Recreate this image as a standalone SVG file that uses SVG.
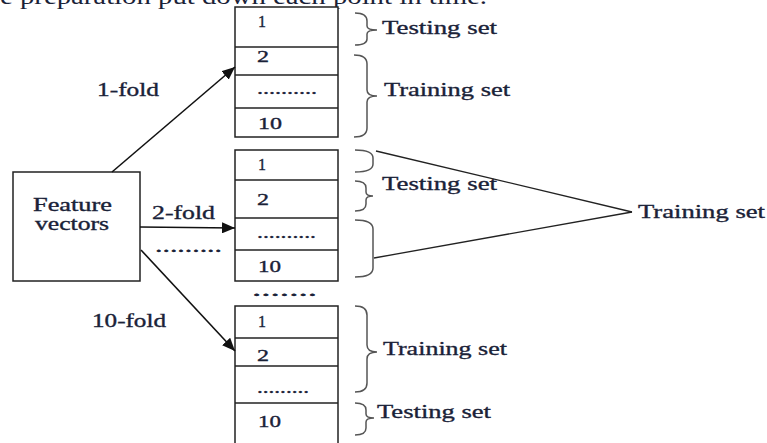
<svg xmlns="http://www.w3.org/2000/svg" width="767" height="443" viewBox="0 0 767 443">
<defs>
<style>
text{font-family:"Liberation Serif","Times New Roman",serif;fill:#1a2238;stroke:#1a2238;stroke-width:0.35;}
.lbl{font-size:19px;}
.num{font-size:16px;}
.fold{font-size:18px;}
.box{fill:#fff;stroke:#222;stroke-width:1.5;}
.div{stroke:#222;stroke-width:1.3;}
.brace{fill:none;stroke:#555;stroke-width:1.5;}
.conn{stroke:#111;stroke-width:1.6;fill:none;}
.thin{stroke:#222;stroke-width:1.3;fill:none;}
</style>
<marker id="ah" viewBox="0 0 13 11" refX="13" refY="5.5" markerWidth="13" markerHeight="11" markerUnits="userSpaceOnUse" orient="auto">
<path d="M0,0 L13,5.5 L0,11 Z" fill="#111"/>
</marker>
</defs>
<rect width="767" height="443" fill="#fff"/>
<text x="0" y="4" style="font-size:24px;stroke:none" textLength="487" lengthAdjust="spacingAndGlyphs" fill="#111">e preparation put down each point in time.</text>

<g id="feature">
<rect class="box" x="13" y="172" width="127" height="109"/>
<text class="fold" x="33" y="211" textLength="79" lengthAdjust="spacingAndGlyphs">Feature</text>
<text class="fold" x="35" y="230" textLength="74" lengthAdjust="spacingAndGlyphs">vectors</text>
</g>

<g id="fold1">
<rect class="box" x="235" y="7" width="103" height="130"/>
<line class="div" x1="235" y1="47" x2="338" y2="47"/>
<line class="div" x1="235" y1="75" x2="338" y2="75"/>
<line class="div" x1="235" y1="108" x2="338" y2="108"/>
<text class="num" x="258" y="27" textLength="8" lengthAdjust="spacingAndGlyphs">1</text>
<text class="num" x="257" y="62" textLength="12" lengthAdjust="spacingAndGlyphs">2</text>
<text class="num" x="257" y="94" textLength="60" lengthAdjust="spacingAndGlyphs">..........</text>
<text class="num" x="258" y="129" textLength="24" lengthAdjust="spacingAndGlyphs">10</text>
<path class="brace" d="M355,13 Q367,13 367,21 L367,26 Q367,30 377,30 Q367,30 367,34 L367,39 Q367,45 355,45"/>
<text class="lbl" x="382" y="34" textLength="115" lengthAdjust="spacingAndGlyphs">Testing set</text>
<path class="brace" d="M354,55 Q367,55 367,64 L367,90 Q367,96 377,96 Q367,96 367,102 L367,128 Q367,137 354,137"/>
<text class="lbl" x="384" y="96" textLength="126" lengthAdjust="spacingAndGlyphs">Training set</text>
</g>

<g id="fold2">
<rect class="box" x="235" y="150" width="103" height="131"/>
<line class="div" x1="235" y1="180" x2="338" y2="180"/>
<line class="div" x1="235" y1="218" x2="338" y2="218"/>
<line class="div" x1="235" y1="250" x2="338" y2="250"/>
<text class="num" x="258" y="170" textLength="8" lengthAdjust="spacingAndGlyphs">1</text>
<text class="num" x="257" y="205" textLength="12" lengthAdjust="spacingAndGlyphs">2</text>
<text class="num" x="257" y="238" textLength="59" lengthAdjust="spacingAndGlyphs">..........</text>
<text class="num" x="258" y="272" textLength="23" lengthAdjust="spacingAndGlyphs">10</text>
<path class="brace" d="M355,150 Q373,150 373,158 L373,164 Q373,172 355,172"/>
<path class="brace" d="M355,181 Q366,181 366,188 L366,192 Q366,196 373,196 Q366,196 366,200 L366,204 Q366,211 355,211"/>
<text class="lbl" x="382" y="190" textLength="115" lengthAdjust="spacingAndGlyphs">Testing set</text>
<path class="brace" d="M355,220 Q373,220 373,229 L373,268 Q373,277 355,277"/>
<text class="lbl" x="638" y="218" textLength="127" lengthAdjust="spacingAndGlyphs">Training set</text>
</g>

<g id="fold10">
<rect class="box" x="235" y="306" width="103" height="150"/>
<line class="div" x1="235" y1="338" x2="338" y2="338"/>
<line class="div" x1="235" y1="366" x2="338" y2="366"/>
<line class="div" x1="235" y1="403" x2="338" y2="403"/>
<text class="num" x="258" y="327" textLength="8" lengthAdjust="spacingAndGlyphs">1</text>
<text class="num" x="257" y="361" textLength="12" lengthAdjust="spacingAndGlyphs">2</text>
<text class="num" x="257" y="393" textLength="52" lengthAdjust="spacingAndGlyphs">.........</text>
<text class="num" x="258" y="427" textLength="23" lengthAdjust="spacingAndGlyphs">10</text>
<path class="brace" d="M355,306 Q367,306 367,315 L367,345 Q367,352 377,352 Q367,352 367,359 L367,383 Q367,392 355,392"/>
<text class="lbl" x="383" y="355" textLength="124" lengthAdjust="spacingAndGlyphs">Training set</text>
<path class="brace" d="M355,403 Q366,403 366,410 L366,414 Q366,418 374,418 Q366,418 366,422 L366,428 Q366,435 355,435"/>
<text class="lbl" x="377" y="418" textLength="114" lengthAdjust="spacingAndGlyphs">Testing set</text>
</g>

<g id="connectors">
<line class="conn" x1="112" y1="172" x2="235" y2="67" marker-end="url(#ah)"/>
<line class="conn" x1="140" y1="227" x2="235" y2="228" marker-end="url(#ah)"/>
<line class="conn" x1="141" y1="250" x2="235" y2="351" marker-end="url(#ah)"/>
<line class="thin" x1="376" y1="151" x2="632" y2="212"/>
<line class="thin" x1="374" y1="258" x2="632" y2="212"/>
</g>

<g id="labels">
<text class="fold" x="97" y="96" textLength="62" lengthAdjust="spacingAndGlyphs">1-fold</text>
<text class="fold" x="152" y="219" textLength="63" lengthAdjust="spacingAndGlyphs">2-fold</text>
<text class="fold" x="155" y="252" textLength="67" lengthAdjust="spacingAndGlyphs">.........</text>
<text class="fold" x="92" y="327" textLength="74" lengthAdjust="spacingAndGlyphs">10-fold</text>
<text class="fold" x="252" y="296" textLength="65" lengthAdjust="spacingAndGlyphs">.......</text>
</g>
</svg>
